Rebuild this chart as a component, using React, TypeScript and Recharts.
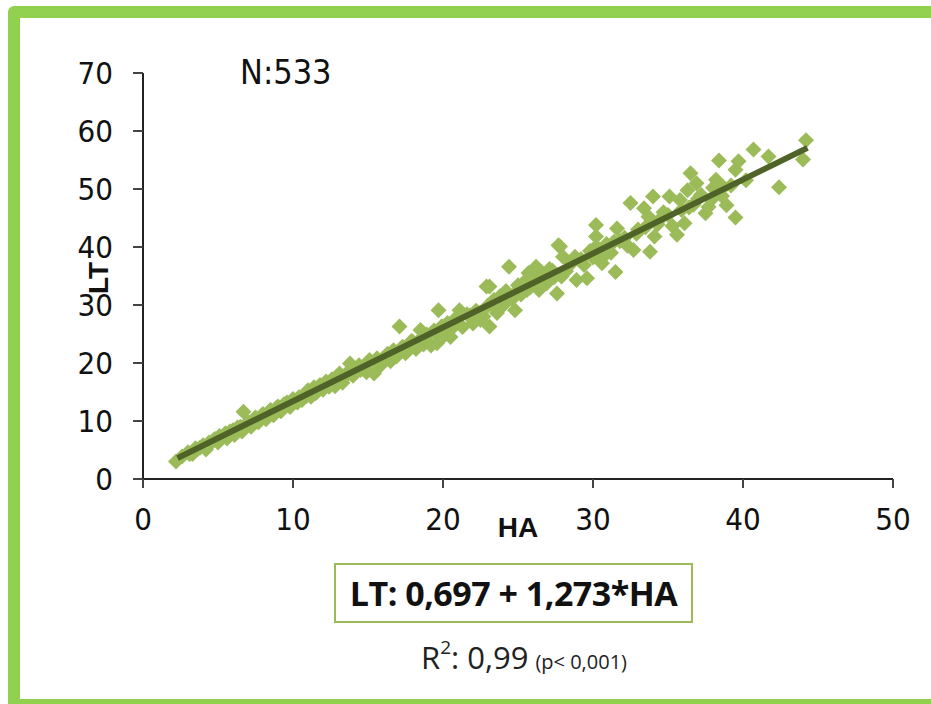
import React from 'react'
import { ScatterChart, Scatter, XAxis, YAxis } from 'recharts'

// HA values (x) and LT values (y)
const haValues = [
  2.2, 2.6, 3.0, 3.3, 3.5, 3.8, 4.0, 4.2, 4.4, 4.6, 4.8, 5.0, 5.1, 5.3, 5.5, 5.6, 5.8, 6.0, 6.1, 6.3,
  6.5, 6.6, 6.7, 6.9, 7.0, 7.2, 7.4, 7.5, 7.7, 7.9, 8.0, 8.2, 8.4, 8.5, 8.7, 8.9, 9.0, 9.2, 9.4, 9.6,
  9.8, 10.0, 10.2, 10.4, 10.6, 10.8, 11.0, 11.2, 11.4, 11.6, 11.8, 12.0, 12.2, 12.4, 12.6, 12.8, 13.0, 13.1, 13.3, 13.5,
  13.8, 14.0, 14.2, 14.4, 14.7, 14.9, 15.1, 15.4, 15.6, 15.8, 16.0, 16.3, 16.5, 16.9, 17.1, 17.3, 17.5, 17.8, 18.0, 18.2,
  18.5, 18.7, 19.0, 19.2, 19.4, 19.6, 19.7, 19.9, 20.1, 20.3, 20.5, 20.8, 21.1, 21.3, 21.6, 22.0, 22.2, 22.5, 22.7, 22.9,
  23.1, 23.1, 23.3, 23.4, 23.6, 23.8, 24.0, 24.2, 24.4, 24.6, 24.8, 25.0, 25.2, 25.5, 25.7, 25.8, 26.0, 26.2, 26.4, 26.5,
  26.9, 27.1, 27.4, 27.6, 27.7, 27.8, 28.0, 28.2, 28.5, 28.8, 28.9, 29.2, 29.6, 29.8, 30.0, 30.2, 30.2, 30.4, 30.6, 30.9,
  31.2, 31.5, 31.6, 31.8, 32.0, 32.3, 32.5, 32.7, 33.0, 33.4, 33.7, 33.8, 34.0, 34.1, 34.4, 34.7, 35.1, 35.3, 35.6, 35.8,
  36.1, 36.3, 36.5, 36.7, 36.9, 37.2, 37.5, 37.7, 38.0, 38.2, 38.4, 38.6, 38.9, 39.2, 39.5, 39.5, 39.7, 40.7, 41.7, 42.4,
  44.0, 44.2,
  // second pass through the dense band
  3.1, 3.6, 4.1, 4.7, 5.2, 5.9, 6.4, 7.1, 7.6, 8.1, 8.6, 9.1, 9.7, 10.3, 10.9, 11.5, 12.1, 12.7, 13.4, 13.9,
  14.5, 15.0, 15.5, 16.1, 16.7, 17.4, 17.9, 18.4, 18.9, 19.5, 20.0, 20.6, 21.0, 21.8, 22.4, 23.0, 23.7, 24.3, 25.1, 25.6,
  26.1, 26.7, 27.3, 27.9, 28.6, 29.4, 30.1, 30.8, 31.4, 32.1, 32.9, 33.5, 34.3, 35.0, 35.9, 36.4, 37.0, 37.9, 38.7, 40.2,
]
const ltValues = [
  3.0, 3.9, 4.6, 4.3, 5.3, 5.4, 5.8, 5.1, 6.3, 6.4, 6.9, 6.3, 7.4, 7.2, 7.9, 7.0, 8.2, 8.4, 7.6, 8.9,
  9.0, 8.2, 11.6, 9.5, 9.8, 9.0, 10.3, 10.6, 9.8, 10.9, 11.2, 10.3, 11.6, 11.9, 11.0, 12.3, 12.5, 11.7, 12.9, 13.2,
  12.4, 13.8, 13.3, 14.1, 13.6, 14.6, 15.3, 14.2, 15.8, 15.0, 16.2, 15.4, 16.8, 15.9, 17.2, 16.0, 17.5, 18.2, 16.6, 18.0,
  19.9, 17.8, 18.9, 19.6, 19.4, 18.4, 20.5, 18.2, 20.8, 19.5, 20.5, 21.6, 20.3, 21.1, 26.3, 22.8, 21.7, 22.5, 23.6, 22.4,
  25.7, 23.2, 24.8, 23.0, 25.6, 23.4, 29.1, 26.3, 24.8, 26.9, 24.5, 27.6, 29.1, 26.2, 28.4, 26.8, 29.0, 27.4, 28.0, 33.2,
  26.3, 33.2, 30.0, 30.9, 28.6, 31.5, 29.9, 32.4, 36.6, 31.0, 29.1, 33.4, 31.8, 34.2, 35.5, 33.0, 34.9, 36.6, 32.6, 35.8,
  33.7, 36.2, 34.8, 32.0, 40.3, 40.1, 38.3, 35.8, 37.4, 38.3, 34.3, 37.9, 34.6, 39.3, 38.2, 43.8, 41.8, 39.6, 37.2, 40.5,
  39.0, 35.7, 43.2, 41.0, 41.2, 40.2, 47.6, 39.5, 43.0, 46.7, 45.2, 39.2, 48.7, 41.8, 44.6, 46.0, 48.7, 43.6, 42.1, 48.1,
  44.1, 49.8, 52.7, 47.3, 51.0, 49.0, 45.8, 46.9, 50.2, 51.6, 54.9, 48.8, 47.2, 50.6, 53.3, 45.1, 54.8, 56.8, 55.6, 50.3,
  55.1, 58.4,
  4.3, 5.1, 5.6, 6.7, 7.1, 7.9, 8.6, 9.6, 9.9, 10.9, 11.4, 11.9, 12.9, 13.2, 14.3, 14.8, 15.9, 16.5, 17.4, 18.4,
  18.8, 19.9, 20.2, 20.9, 22.2, 22.6, 23.8, 23.9, 24.9, 25.2, 26.3, 26.0, 27.8, 28.2, 28.6, 29.9, 30.7, 31.2, 32.9, 32.6,
  34.1, 33.6, 35.9, 34.9, 37.3, 36.9, 39.8, 38.6, 40.9, 41.6, 42.3, 43.4, 43.9, 45.5, 46.4, 46.8, 48.3, 48.2, 50.3, 51.5,
]

// regression line LT = 0,697 + 1,273*HA, drawn between its two ends
const trendHA = [2.3, 44.3]
const trendLT = [3.6, 57.1]

const xTicks = [0, 10, 20, 30, 40, 50]
const yTicks = [0, 10, 20, 30, 40, 50, 60, 70]

const points = haValues.map((ha, i) => ({ ha, lt: ltValues[i] }))
const trend = trendHA.map((ha, i) => ({ ha, lt: trendLT[i] }))

const tickFont = { fontSize: 31, fill: '#111', fontFamily: 'DejaVu Sans Condensed, DejaVu Sans, sans-serif' }

function Diamond(props: any) {
  const { cx, cy } = props
  if (cx == null || cy == null) return null
  const r = 8
  return (
    <path
      d={`M${cx},${cy - r}L${cx + r},${cy}L${cx},${cy + r}L${cx - r},${cy}Z`}
      fill="#9bbb59"
    />
  )
}

export default function App() {
  return (
    <div style={{ position: 'absolute', left: 0, top: 0, width: 931, height: 704, overflow: 'hidden', background: '#fff' }}>
      <div
        style={{
          position: 'absolute',
          left: 8,
          top: 6,
          width: 960,
          height: 705,
          border: '12px solid #92d050',
          borderRadius: 6,
          boxSizing: 'border-box',
        }}
      />
      <ScatterChart
        width={931}
        height={704}
        margin={{ top: 73, right: 38, left: 83, bottom: 185 }}
        style={{ position: 'absolute', left: 0, top: 0 }}
      >
        <XAxis
          type="number"
          dataKey="ha"
          domain={[0, 50]}
          ticks={xTicks}
          height={40}
          tickSize={9}
          tickMargin={20}
          axisLine={{ stroke: '#222', strokeWidth: 2 }}
          tickLine={{ stroke: '#444', strokeWidth: 2 }}
          tick={tickFont}
          allowDataOverflow
        />
        <YAxis
          type="number"
          dataKey="lt"
          domain={[0, 70]}
          ticks={yTicks}
          width={60}
          tickSize={10}
          tickMargin={20}
          axisLine={{ stroke: '#222', strokeWidth: 2 }}
          tickLine={{ stroke: '#444', strokeWidth: 2 }}
          tick={tickFont}
          allowDataOverflow
        />
        <Scatter data={points} shape={<Diamond />} isAnimationActive={false} />
        <Scatter
          data={trend}
          line={{ stroke: '#4f6228', strokeWidth: 6 }}
          lineType="joint"
          shape={() => null}
          isAnimationActive={false}
        />
      </ScatterChart>

      <div style={{ position: 'absolute', left: 240, top: 52, fontSize: 34, fontFamily: 'DejaVu Sans Condensed, DejaVu Sans, sans-serif', color: '#111' }}>
        N:533
      </div>
      <div
        style={{
          position: 'absolute',
          left: 99,
          top: 278,
          transform: 'translate(-50%, -50%) rotate(-90deg)',
          fontSize: 28,
          fontWeight: 'bold',
          fontFamily: 'Liberation Sans, Arial, sans-serif',
          color: '#111',
        }}
      >
        LT
      </div>
      <div
        style={{
          position: 'absolute',
          left: 518,
          top: 528,
          transform: 'translate(-50%, -50%)',
          fontSize: 28,
          fontWeight: 'bold',
          fontFamily: 'Liberation Sans, Arial, sans-serif',
          color: '#111',
        }}
      >
        HA
      </div>
      <div
        style={{
          position: 'absolute',
          left: 334,
          top: 563,
          width: 359,
          height: 60,
          border: '2px solid #9bbb59',
          boxSizing: 'border-box',
          display: 'flex',
          alignItems: 'center',
          justifyContent: 'center',
          fontSize: 34,
          fontWeight: 'bold',
          fontFamily: 'Open Sans, Liberation Sans, sans-serif',
          letterSpacing: -0.5,
          color: '#111',
          whiteSpace: 'nowrap',
        }}
      >
        LT: 0,697 + 1,273*HA
      </div>
      <div
        style={{
          position: 'absolute',
          left: 421,
          top: 636,
          fontFamily: 'Open Sans, sans-serif',
          color: '#222',
          whiteSpace: 'nowrap',
        }}
      >
        <span style={{ fontSize: 31 }}>
          R<sup style={{ fontSize: 19, verticalAlign: 'top', position: 'relative', top: -2 }}>2</sup>: 0,99
        </span>
        <span style={{ fontSize: 20, marginLeft: 7 }}>(p&lt; 0,001)</span>
      </div>
    </div>
  )
}
